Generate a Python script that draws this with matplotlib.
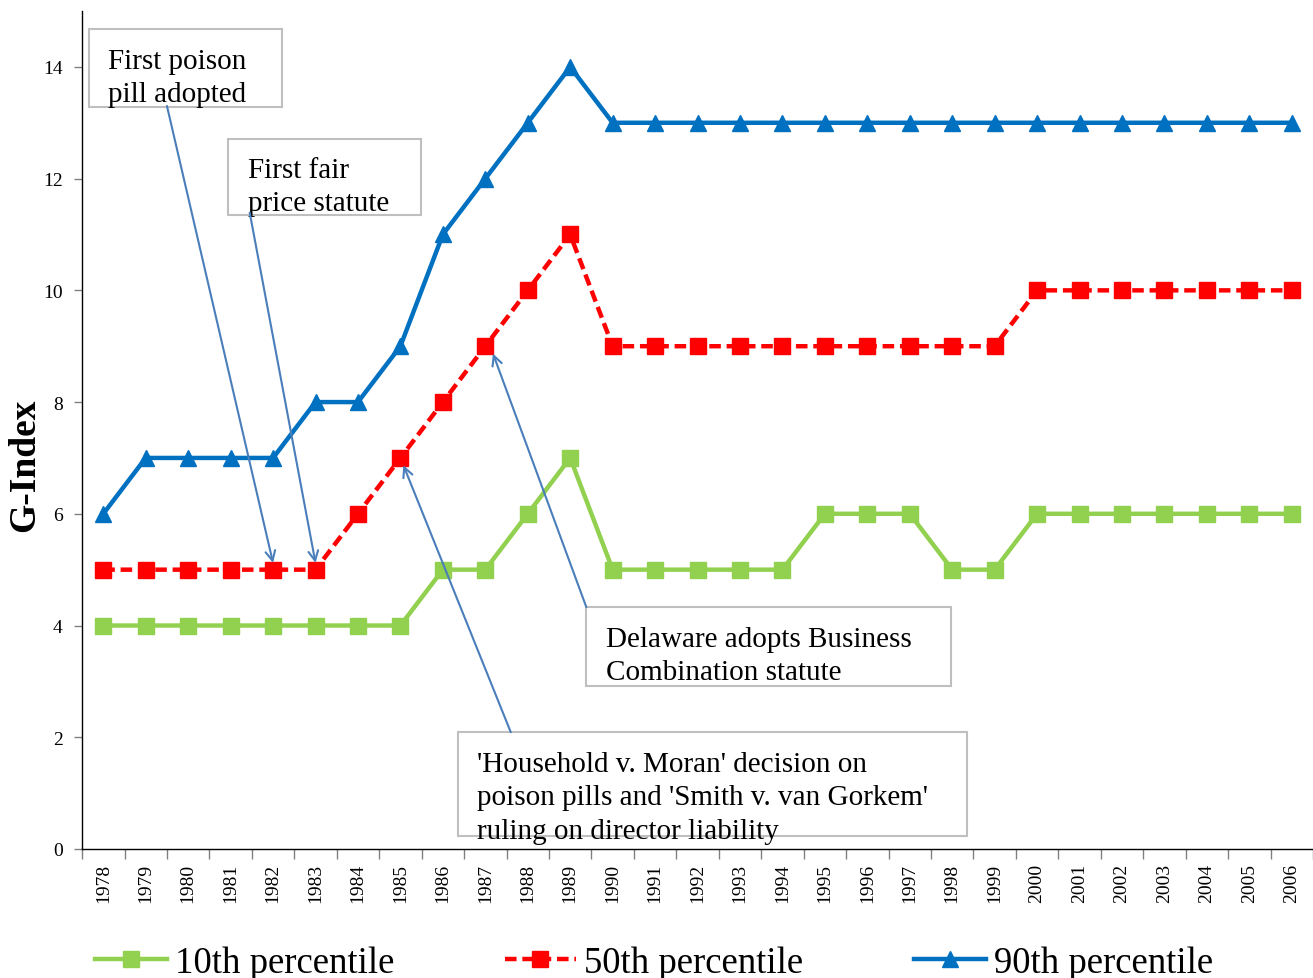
import matplotlib
matplotlib.use("Agg")
import matplotlib.pyplot as plt
from matplotlib.patches import Rectangle

years = [str(y) for y in range(1978, 2007)]
p10 = [4, 4, 4, 4, 4, 4, 4, 4, 5, 5, 6, 7, 5, 5, 5, 5, 5, 6, 6, 6, 5, 5, 6, 6, 6, 6, 6, 6, 6]
p50 = [5, 5, 5, 5, 5, 5, 6, 7, 8, 9, 10, 11, 9, 9, 9, 9, 9, 9, 9, 9, 9, 9, 10, 10, 10, 10, 10, 10, 10]
p90 = [6, 7, 7, 7, 7, 8, 8, 9, 11, 12, 13, 14, 13, 13, 13, 13, 13, 13, 13, 13, 13, 13, 13, 13, 13, 13, 13, 13, 13]
series_labels = ["10th percentile", "50th percentile", "90th percentile"]

plt.rcParams["font.family"] = ["Liberation Serif", "DejaVu Serif"]

fig = plt.figure(figsize=(13.13, 9.79), dpi=100)
ax = fig.add_axes([0.0625, 0.1318, 0.9375, 0.8559])

x = list(range(len(years)))
green, red, blue = "#92D050", "#FF0000", "#0070C0"
ax.plot(x, p10, color=green, lw=3.2, marker="s", ms=12, label=series_labels[0], zorder=3)
ax.plot(x, p50, color=red, lw=3.2, ls=(0, (2.6, 1.3)), marker="s", ms=12,
        label=series_labels[1], zorder=3)
ax.plot(x, p90, color=blue, lw=3.2, marker="^", ms=12, label=series_labels[2], zorder=3)

ax.set_xlim(-0.5, len(years) - 0.5)
ax.set_ylim(0, 15)
ax.set_yticks(range(0, 15, 2))
ax.set_xticks(x)
ax.set_xticklabels(years, rotation=90, fontsize=14)
ax.set_xticks([i + 0.5 for i in range(-1, len(years))], minor=True)
ax.tick_params(axis="x", which="major", length=0, pad=10)
ax.tick_params(axis="x", which="minor", length=7, width=1, color="#808080")
ax.tick_params(axis="y", labelsize=14, length=6, width=1, color="#808080", pad=8)
for s in ("top", "right"):
    ax.spines[s].set_visible(False)
for s in ("left", "bottom"):
    ax.spines[s].set_linewidth(1.0)
ax.set_ylabel("G-Index", fontsize=27, fontweight="bold")
ax.yaxis.set_label_coords(-0.0325, 0.459)

arrow_color = "#4A7EBB"
box_edge = "#BFBFBF"
txt_size = 21

# (box x0, box y0, box x1, box y1, text, text x, text top y, arrow start, arrow target)
notes = [
    (-0.33, 13.28, 4.20, 14.68, "First poison\npill adopted", 0.12, 14.34, (1.50, 13.30), (4, 5.12)),
    (2.93, 11.34, 7.49, 12.71, "First fair\nprice statute", 3.40, 12.39, (3.45, 11.39), (5, 5.12)),
    (11.38, 2.91, 19.98, 4.33, "Delaware adopts Business\nCombination statute", 11.85, 3.99,
     (11.38, 4.33), (9.18, 8.87)),
    (8.36, 0.23, 20.35, 2.09, "'Household v. Moran' decision on\npoison pills and 'Smith v. van Gorkem'\nruling on director liability",
     8.80, 1.75, (9.60, 2.09), (7.07, 6.87)),
]
for x0, y0, x1, y1, text, tx, ty, start, target in notes:
    ax.add_patch(Rectangle((x0, y0), x1 - x0, y1 - y0, facecolor="white",
                           edgecolor=box_edge, lw=1.5, zorder=5, clip_on=False))
    ax.text(tx, ty, text, fontsize=txt_size, ha="left", va="top",
            linespacing=1.36, zorder=6, clip_on=False)
    ax.annotate("", xy=target, xytext=start,
                arrowprops=dict(arrowstyle="->,head_length=0.7,head_width=0.35",
                                color=arrow_color, lw=1.5, shrinkA=0, shrinkB=0),
                zorder=7)

fig.legend(loc="center", bbox_to_anchor=(0.498, 0.016), ncol=3, frameon=False,
           fontsize=26.5, handlelength=1.95, handletextpad=0.22, columnspacing=3.0,
           borderaxespad=0)

fig.savefig("out.png", dpi=100)
